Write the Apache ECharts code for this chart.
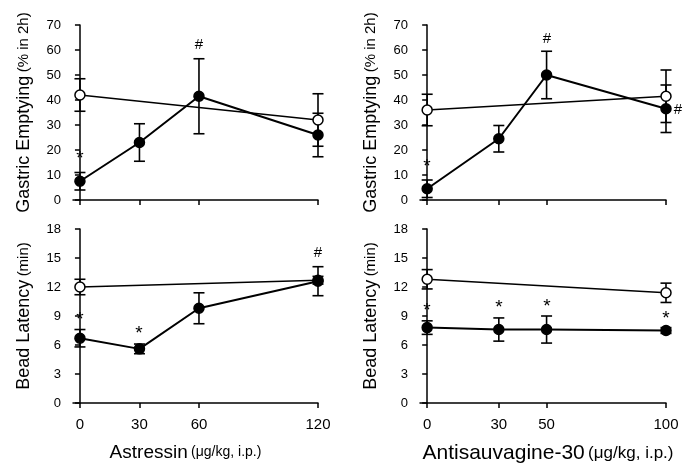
<!DOCTYPE html>
<html>
<head>
<meta charset="utf-8">
<script src="https://cdn.jsdelivr.net/npm/echarts@6/dist/echarts.min.js"></script>
<style>
  html, body { margin: 0; padding: 0; background: #fff; }
  #main { width: 692px; height: 468px; }
</style>
</head>
<body>
<div id="main"></div>
<script>
// doses on the x axes
const doseAst = [0, 30, 60, 120];
const doseAnt = [0, 30, 50, 100];
const ctrlAst = [0, 120];
const ctrlAnt = [0, 100];

// gastric emptying (% in 2h), astressin
const geAstCtrl = [42, 32];
const geAstCtrlErr = [6.5, 10.5];
const geAstTrt = [7.5, 23, 41.5, 26];
const geAstTrtErr = [3.5, 7.5, 15, 8.7];

// bead latency (min), astressin
const blAstCtrl = [12, 12.7];
const blAstCtrlErr = [0.8, 0.4];
const blAstTrt = [6.7, 5.6, 9.8, 12.6];
const blAstTrtErr = [0.9, 0.5, 1.6, 1.5];

// gastric emptying, antisauvagine-30
const geAntCtrl = [36, 41.5];
const geAntCtrlErr = [6.3, 10.5];
const geAntTrt = [4.5, 24.5, 50, 36.5];
const geAntTrtErr = [3.5, 5.3, 9.5, 9.5];

// bead latency, antisauvagine-30
const blAntCtrl = [12.8, 11.4];
const blAntCtrlErr = [1, 1];
const blAntTrt = [7.8, 7.6, 7.6, 7.5];
const blAntTrtErr = [0.7, 1.2, 1.4, 0.3];

// significance marks [x, y, text]
const marksGeAst = [[0, 18, '*'], [60, 62, '#']];
const marksBlAst = [[0, 9, '*'], [30, 7.6, '*'], [120, 15.5, '#']];
const marksGeAnt = [[0, 14.8, '*'], [50, 64.5, '#'], [105, 36, '#']];
const marksBlAnt = [[0, 9.9, '*'], [30, 10.2, '*'], [50, 10.3, '*'], [100, 9.1, '*']];

const FONT = 'Liberation Sans, Arial, sans-serif';

const chart = echarts.init(document.getElementById('main'));

function errBars(idx, xs, ys, es) {
    return {
        type: 'custom',
        xAxisIndex: idx,
        yAxisIndex: idx,
        z: 1,
        data: xs.map((x, i) => [x, ys[i] - es[i], ys[i] + es[i]]),
        renderItem: function (params, api) {
            const x = api.value(0);
            const lo = api.coord([x, api.value(1)]);
            const hi = api.coord([x, api.value(2)]);
            const w = 5.5;
            const st = { stroke: '#000', lineWidth: 1.6 };
            return {
                type: 'group',
                children: [
                    { type: 'line', shape: { x1: lo[0], y1: lo[1], x2: hi[0], y2: hi[1] }, style: st },
                    { type: 'line', shape: { x1: lo[0] - w, y1: lo[1], x2: lo[0] + w, y2: lo[1] }, style: st },
                    { type: 'line', shape: { x1: hi[0] - w, y1: hi[1], x2: hi[0] + w, y2: hi[1] }, style: st }
                ]
            };
        }
    };
}

function meanLine(idx, xs, ys, filled) {
    return {
        type: 'line',
        xAxisIndex: idx,
        yAxisIndex: idx,
        z: filled ? 4 : 3,
        data: xs.map((x, i) => [x, ys[i]]),
        symbol: 'circle',
        symbolSize: 10,
        showSymbol: true,
        itemStyle: { color: filled ? '#000' : '#fff', borderColor: '#000', borderWidth: 1.5 },
        lineStyle: { color: '#000', width: filled ? 2 : 1.5 }
    };
}

// * and # above the points
function marks(idx, list) {
    return {
        type: 'custom',
        xAxisIndex: idx,
        yAxisIndex: idx,
        z: 5,
        clip: false,
        data: list,
        renderItem: function (params, api) {
            const p = api.coord([api.value(0), api.value(1)]);
            const t = list[params.dataIndex][2];
            const star = t === '*';
            return {
                type: 'text',
                x: Math.round(p[0]),
                y: Math.round(p[1] + (star ? 4 : 0)),
                style: {
                    text: t,
                    fontSize: star ? 19 : 15,
                    fontFamily: FONT,
                    fill: '#000',
                    align: 'center',
                    verticalAlign: 'middle'
                }
            };
        }
    };
}

function xAxis(idx, min, max, ticks, showLabels, name, pad, big, small) {
    return {
        type: 'value',
        gridIndex: idx,
        min: min,
        max: max,
        splitLine: { show: false },
        axisLine: { onZero: false, lineStyle: { color: '#000', width: 1.5 } },
        axisTick: { show: true, customValues: ticks, length: 5, lineStyle: { color: '#000', width: 1.5 } },
        axisLabel: {
            show: showLabels, customValues: ticks, margin: 14,
            fontSize: 15, color: '#000', fontFamily: FONT
        },
        name: name,
        nameLocation: 'middle',
        nameGap: 40,
        nameTextStyle: {
            color: '#000', fontFamily: FONT, padding: pad,
            rich: {
                a: { fontSize: big, fontFamily: FONT, color: '#000' },
                b: { fontSize: small, fontFamily: FONT, color: '#000' }
            }
        }
    };
}

function yAxis(idx, max, step, name) {
    return {
        type: 'value',
        gridIndex: idx,
        min: 0,
        max: max,
        interval: step,
        splitLine: { show: false },
        axisLine: { show: true, lineStyle: { color: '#000', width: 1.5 } },
        axisTick: { show: true, length: 5, lineStyle: { color: '#000', width: 1.5 } },
        axisLabel: { margin: 12, fontSize: 13, color: '#000', fontFamily: FONT },
        name: name,
        nameLocation: 'middle',
        nameRotate: 90,
        nameGap: 40,
        nameTextStyle: {
            color: '#000', fontFamily: FONT,
            rich: {
                a: { fontSize: 18, fontFamily: FONT, color: '#000' },
                b: { fontSize: 15, fontFamily: FONT, color: '#000' }
            }
        }
    };
}

const option = {
    animation: false,
    backgroundColor: '#fff',
    grid: [
        { left: 73, top: 25, width: 245, height: 175 },
        { left: 73, top: 229, width: 245, height: 174 },
        { left: 420, top: 25, width: 246, height: 175 },
        { left: 420, top: 229, width: 246, height: 174 }
    ],
    xAxis: [
        xAxis(0, -3.5, 120, doseAst, false, '', 0, 19, 14),
        xAxis(1, -3.5, 120, doseAst, true, '{a|Astressin} {b|(μg/kg, i.p.)}', [0, 20, 0, 0], 19, 14),
        xAxis(2, -3, 100, doseAnt, false, '', 0, 21, 17),
        xAxis(3, -3, 100, doseAnt, true, '{a|Antisauvagine-30} {b|(μg/kg, i.p.)}', [0, 0, 0, 10], 21, 17)
    ],
    yAxis: [
        yAxis(0, 70, 10, '{a|Gastric Emptying} {b|(% in 2h)}'),
        yAxis(1, 18, 3, '{a|Bead Latency} {b|(min)}'),
        yAxis(2, 70, 10, '{a|Gastric Emptying} {b|(% in 2h)}'),
        yAxis(3, 18, 3, '{a|Bead Latency} {b|(min)}')
    ],
    series: [
        errBars(0, ctrlAst, geAstCtrl, geAstCtrlErr),
        errBars(0, doseAst, geAstTrt, geAstTrtErr),
        meanLine(0, ctrlAst, geAstCtrl, false),
        meanLine(0, doseAst, geAstTrt, true),
        marks(0, marksGeAst),

        errBars(1, ctrlAst, blAstCtrl, blAstCtrlErr),
        errBars(1, doseAst, blAstTrt, blAstTrtErr),
        meanLine(1, ctrlAst, blAstCtrl, false),
        meanLine(1, doseAst, blAstTrt, true),
        marks(1, marksBlAst),

        errBars(2, ctrlAnt, geAntCtrl, geAntCtrlErr),
        errBars(2, doseAnt, geAntTrt, geAntTrtErr),
        meanLine(2, ctrlAnt, geAntCtrl, false),
        meanLine(2, doseAnt, geAntTrt, true),
        marks(2, marksGeAnt),

        errBars(3, ctrlAnt, blAntCtrl, blAntCtrlErr),
        errBars(3, doseAnt, blAntTrt, blAntTrtErr),
        meanLine(3, ctrlAnt, blAntCtrl, false),
        meanLine(3, doseAnt, blAntTrt, true),
        marks(3, marksBlAnt)
    ]
};

chart.setOption(option);
</script>
</body>
</html>
